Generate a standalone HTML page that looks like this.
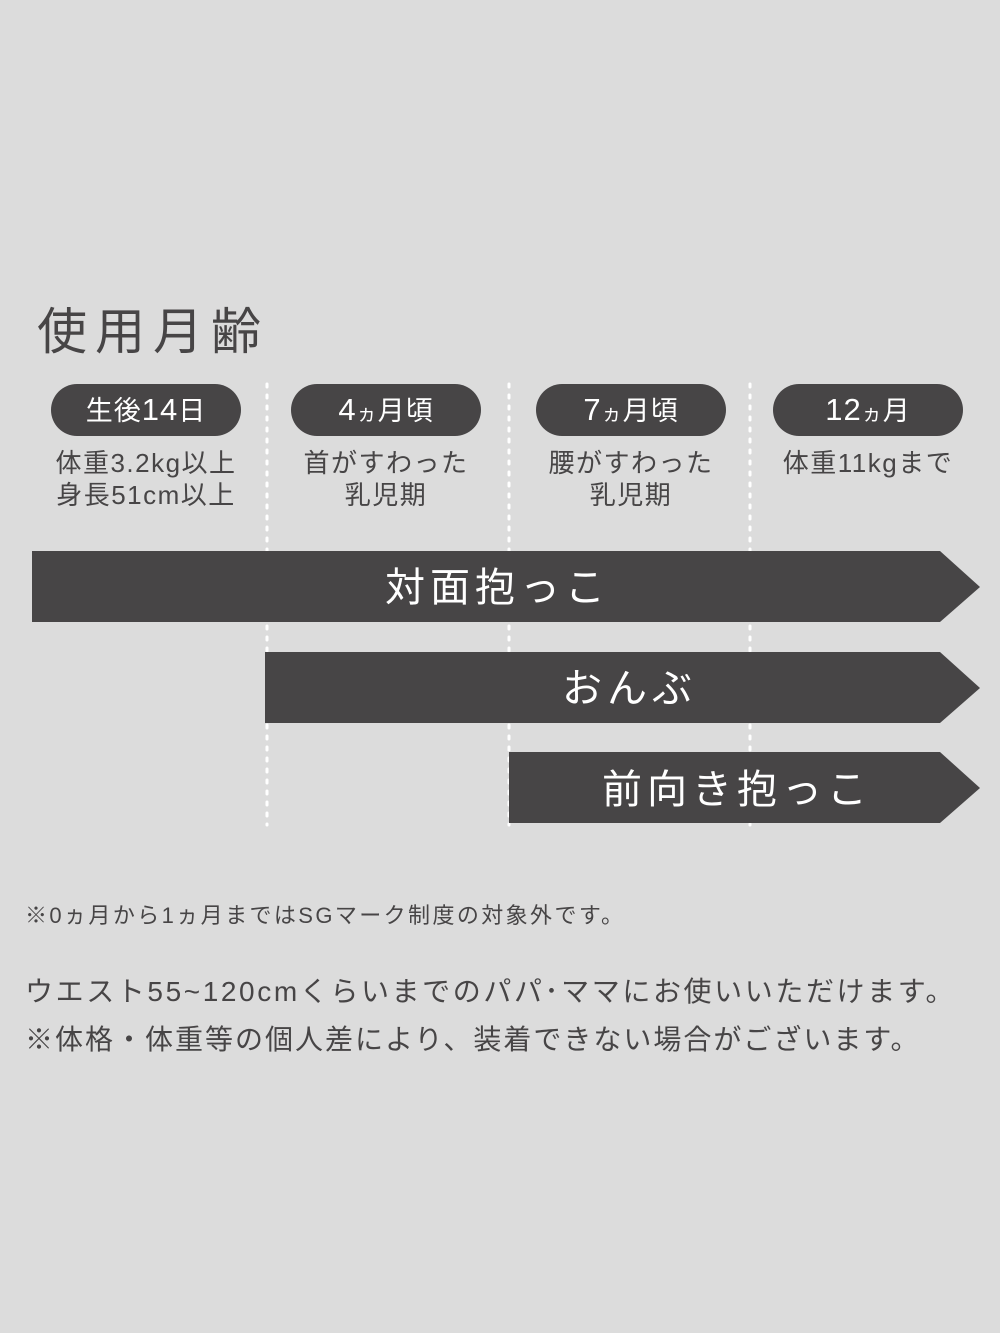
<!DOCTYPE html>
<html><head><meta charset="utf-8"><style>
body{margin:0;width:1000px;height:1333px;background:#dcdcdc;position:relative;overflow:hidden;font-family:"Liberation Sans","Noto Sans CJK JP",sans-serif;color:#474546}
.a{position:absolute;white-space:nowrap}
.pill{position:absolute;top:384px;height:52px;width:190px;border-radius:26px;background:#474546;color:#fff;font-size:27px;line-height:52px;text-align:center;letter-spacing:1px}
.sub{position:absolute;top:447px;width:240px;text-align:center;font-size:26px;line-height:32px;color:#474546;letter-spacing:1.5px}
.bt{position:absolute;color:#fff;font-size:40px;letter-spacing:5px;white-space:nowrap}
</style></head><body>
<div class="a" style="left:37px;top:292px;font-size:50px;letter-spacing:8px">使用月齢</div>
<svg width="1000" height="1333" style="position:absolute;left:0;top:0">
<g stroke="#fff" stroke-width="3" stroke-dasharray="3 8" stroke-linecap="round">
<line x1="267" y1="384" x2="267" y2="825"/><line x1="509" y1="384" x2="509" y2="825"/><line x1="750" y1="384" x2="750" y2="825"/>
</g>
<polygon points="32,551 940,551 980,587 940,622 32,622" fill="#474546"/>
<polygon points="265,652 940,652 980,688 940,723 265,723" fill="#474546"/>
<polygon points="509,752 940,752 980,788 940,823 509,823" fill="#474546"/>
</svg>
<div class="pill" style="left:51px">生後<span style="font-size:31px">14</span>日</div>
<div class="pill" style="left:291px"><span style="font-size:31px">4</span><span style="font-size:20px">ヵ</span>月頃</div>
<div class="pill" style="left:536px"><span style="font-size:31px">7</span><span style="font-size:20px">ヵ</span>月頃</div>
<div class="pill" style="left:773px"><span style="font-size:31px">12</span><span style="font-size:20px">ヵ</span>月</div>
<div class="sub" style="left:26px">体重3.2kg以上<br>身長51cm以上</div>
<div class="sub" style="left:266px">首がすわった<br>乳児期</div>
<div class="sub" style="left:511px">腰がすわった<br>乳児期</div>
<div class="sub" style="left:748px">体重11kgまで</div>
<div class="bt" style="left:385px;top:555px">対面抱っこ</div>
<div class="bt" style="left:562px;top:656px">おんぶ</div>
<div class="bt" style="left:602px;top:757px">前向き抱っこ</div>
<div class="a" style="left:25px;top:898px;font-size:22px;letter-spacing:2.4px">※0ヵ月から1ヵ月まではSGマーク制度の対象外です。</div>
<div class="a" style="left:25px;top:970px;font-size:28px;letter-spacing:2.6px">ウエスト55~120cmくらいまでのパパ･ママにお使いいただけます。</div>
<div class="a" style="left:25px;top:1018px;font-size:28px;letter-spacing:2px">※体格・体重等の個人差により、装着できない場合がございます。</div>
</body></html>
